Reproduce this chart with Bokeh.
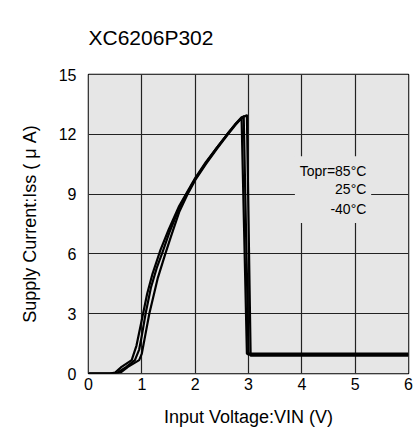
from bokeh.plotting import figure
from bokeh.models import Label, Range1d, FixedTicker
from bokeh.embed import file_html
from bokeh.resources import INLINE

title_text = "XC6206P302"
x_label = "Input Voltage:VIN (V)"
y_label = "Supply Current:Iss ( \u03bc A)"
x_ticks = [0, 1, 2, 3, 4, 5, 6]
y_ticks = [0, 3, 6, 9, 12, 15]
legend_lines = ["Topr=85\u00b0C", "25\u00b0C", "-40\u00b0C"]

# Topr = 85 C
x85 = [0, 0.40, 0.50, 0.62, 0.81, 0.90, 1.00, 1.10, 1.20, 1.35, 1.50, 1.70, 1.85, 2.00, 2.20, 2.40, 2.60, 2.75, 2.87, 2.97, 3.00, 6.00]
y85 = [0, 0, 0.05, 0.33, 0.67, 1.4, 2.7, 4.0, 5.0, 6.2, 7.2, 8.4, 9.1, 9.8, 10.6, 11.3, 12.0, 12.5, 12.85, 1.0, 0.95, 0.95]
# Topr = 25 C
x25 = [0, 0.45, 0.55, 0.71, 0.87, 0.95, 1.00, 1.07, 1.17, 1.28, 1.39, 1.52, 1.70, 1.85, 2.00, 2.20, 2.40, 2.60, 2.75, 2.91, 3.00, 6.00]
y25 = [0, 0, 0.05, 0.33, 0.67, 1.2, 1.9, 3.0, 4.3, 5.3, 6.1, 7.1, 8.3, 9.05, 9.75, 10.55, 11.3, 12.0, 12.5, 12.9, 1.0, 1.0]
# Topr = -40 C
x40 = [0, 0.50, 0.60, 0.74, 0.95, 1.00, 1.07, 1.14, 1.22, 1.30, 1.44, 1.55, 1.70, 1.85, 2.00, 2.20, 2.40, 2.60, 2.75, 2.88, 2.97, 3.04, 6.00]
y40 = [0, 0, 0.05, 0.33, 0.67, 1.0, 2.0, 3.0, 3.9, 4.8, 6.0, 6.9, 8.1, 8.95, 9.7, 10.5, 11.25, 11.95, 12.45, 12.85, 12.95, 0.9, 0.9]

FONT = "Liberation Sans"

p = figure(width=415, height=429, output_backend="svg", toolbar_location=None,
           x_range=Range1d(0, 6), y_range=Range1d(0, 15),
           min_border_left=88, min_border_right=7, min_border_top=74, min_border_bottom=52)

p.title.text = title_text
p.title.align = "left"
p.title.vertical_align = "top"
p.title.standoff = 47
p.title.text_font = FONT
p.title.text_font_size = "21px"
p.title.text_font_style = "normal"
p.title.text_color = "black"

p.background_fill_color = "white"
p.border_fill_color = "white"
p.outline_line_color = "black"
p.outline_line_width = 1.5

for ax in (p.xaxis[0], p.yaxis[0]):
    ax.major_tick_in = 0
    ax.major_tick_out = 0
    ax.minor_tick_in = 0
    ax.minor_tick_out = 0
    ax.axis_line_color = None
    ax.major_label_text_font = FONT
    ax.major_label_text_font_size = "16px"
    ax.major_label_text_color = "black"
    ax.axis_label_text_font = FONT
    ax.axis_label_text_font_size = "18px"
    ax.axis_label_text_font_style = "normal"
    ax.axis_label_text_color = "black"

p.xaxis.ticker = FixedTicker(ticks=x_ticks)
p.yaxis.ticker = FixedTicker(ticks=y_ticks)
p.xaxis.axis_label = x_label
p.yaxis.axis_label = y_label
p.xaxis.major_label_standoff = 4
p.yaxis.major_label_standoff = 12
p.xaxis.axis_label_standoff = 14
p.yaxis.axis_label_standoff = 16

p.grid.grid_line_color = "#222222"
p.grid.grid_line_width = 1.2
p.grid.grid_line_alpha = 1.0
p.xgrid.ticker = FixedTicker(ticks=x_ticks)
p.ygrid.ticker = FixedTicker(ticks=y_ticks)

# plot area fill
p.quad(left=[0], right=[6], bottom=[0], top=[15], fill_color="#e6e6e6", line_color=None, level="underlay")

# legend text background (hides grid)
p.quad(left=[3.87], right=[5.3], bottom=[7.55], top=[10.9], fill_color="#e6e6e6", line_color=None)

for xs, ys in ((x85, y85), (x25, y25), (x40, y40)):
    p.line(xs, ys, line_color="black", line_width=2.2, line_join="round")

ys_text = [10.18, 9.24, 8.25]
for t, yy in zip(legend_lines, ys_text):
    p.add_layout(Label(x=5.21, y=yy, text=t, text_align="right", text_baseline="middle",
                       text_font=FONT, text_font_size="14px", text_color="black"))

open("out.html", "w").write(file_html(p, INLINE))
